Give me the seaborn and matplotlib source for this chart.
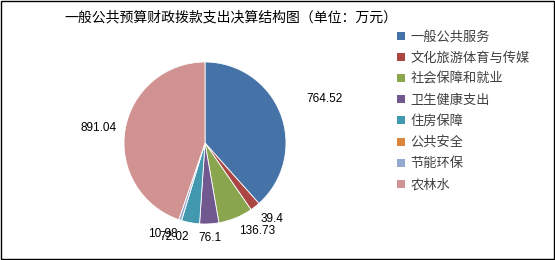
import numpy as np
import matplotlib
matplotlib.use("Agg")
import matplotlib.pyplot as plt
import seaborn as sns
from matplotlib.patches import Rectangle

categories = ["一般公共服务", "文化旅游体育与传媒", "社会保障和就业", "卫生健康支出",
              "住房保障", "公共安全", "节能环保", "农林水"]
values = [764.52, 39.4, 136.73, 76.1, 72.02, 0.0, 10.98, 891.04]
value_labels = ["764.52", "39.4", "136.73", "76.1", "72.02", "", "10.98", "891.04"]
title = "一般公共预算财政拨款支出决算结构图（单位：万元）"

sns.set_theme(style="white")
plt.rcParams['font.family'] = ['Noto Sans CJK SC', 'DejaVu Sans']

colors = sns.color_palette(["#4572A7", "#AA4643", "#89A54E", "#71588F",
                            "#4198AF", "#DB843D", "#93A9CF", "#D19392"])

W, H = 555, 260
fig = plt.figure(figsize=(W / 100, H / 100), dpi=100)
fig.patch.set_facecolor("white")

cx, cy, R = 205, 143, 81
ax = fig.add_axes([(cx - R) / W, (H - cy - R) / H, 2 * R / W, 2 * R / H])
wedges, _ = ax.pie(values, colors=colors, startangle=90, counterclock=False,
                   radius=1.0, wedgeprops=dict(linewidth=0.6, edgecolor="white"))
ax.set_xlim(-1, 1)
ax.set_ylim(-1, 1)
ax.axis("off")

for w, lab in zip(wedges, value_labels):
    if not lab:
        continue
    ang = np.deg2rad((w.theta1 + w.theta2) / 2)
    c, s = np.cos(ang), np.sin(ang)
    d = 1.1 + 0.25 * max(c, 0) * (s > 0)
    ha = "left" if c > 0.15 else ("right" if c < -0.15 else "center")
    va = "bottom" if s > 0.3 else ("top" if s < -0.3 else "center")
    ax.text(d * c, d * s, lab, ha=ha, va=va, fontsize=8.5,
            family=["Liberation Sans", "DejaVu Sans"], color="black", clip_on=False)

fig.text(231 / W, 1 - 17 / H, title, ha="center", va="center", fontsize=10,
         fontweight="medium", color="black")

handles = [Rectangle((0, 0), 1, 1, facecolor=col, edgecolor="none") for col in colors]
leg = fig.legend(handles, categories, loc="upper left",
                 bbox_to_anchor=(392 / W, 1 - 25 / H), frameon=False,
                 fontsize=9.5, handlelength=0.55, handleheight=0.55, handletextpad=0.45,
                 labelspacing=0.62, borderaxespad=0)
for t in leg.get_texts():
    t.set_color("#404040")

fig.patches.append(Rectangle((0.001, 0.002), 0.997, 0.995, transform=fig.transFigure,
                             fill=False, edgecolor="black", linewidth=1))

fig.savefig("out.png", dpi=100, facecolor="white")
